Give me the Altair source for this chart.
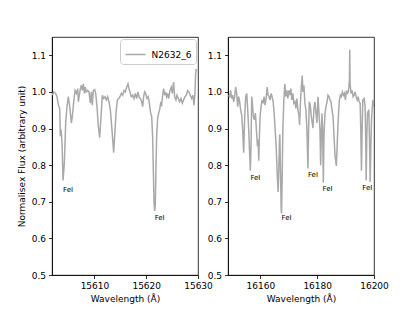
import altair as alt
import pandas as pd

SERIES_NAME = "N2632_6"

LEFT_WAVE = [15601.87, 15602.13, 15602.51, 15602.77, 15603.03, 15603.29, 15603.41, 15603.54, 15603.74, 15603.93,
             15604.19, 15604.44, 15604.70, 15604.96, 15605.22, 15605.54, 15605.73, 15605.99, 15606.25, 15606.50,
             15606.76, 15606.89, 15607.08, 15607.28, 15607.47, 15607.66, 15607.86, 15608.05, 15608.24, 15608.43,
             15608.69, 15608.95, 15609.21, 15609.40, 15609.59, 15609.79, 15610.04, 15610.24, 15610.49, 15610.75,
             15611.01, 15611.27, 15611.52, 15611.78, 15612.04, 15612.30, 15612.55, 15612.81, 15613.07, 15613.33,
             15613.58, 15613.71, 15613.90, 15614.16, 15614.42, 15614.68, 15614.93, 15615.19, 15615.45, 15615.71,
             15615.96, 15616.22, 15616.48, 15616.67, 15616.86, 15617.12, 15617.38, 15617.64, 15617.89, 15618.15,
             15618.41, 15618.60, 15618.86, 15619.12, 15619.31, 15619.50, 15619.70, 15619.89, 15620.15, 15620.40,
             15620.60, 15620.85, 15621.05, 15621.24, 15621.37, 15621.50, 15621.63, 15621.75, 15621.88, 15622.01,
             15622.21, 15622.40, 15622.59, 15622.78, 15622.98, 15623.17, 15623.36, 15623.56, 15623.75, 15623.94,
             15624.14, 15624.33, 15624.59, 15624.84, 15625.04, 15625.29, 15625.49, 15625.74, 15625.94, 15626.20,
             15626.45, 15626.71, 15626.97, 15627.22, 15627.48, 15627.74, 15628.00, 15628.25, 15628.51, 15628.77,
             15629.03, 15629.22, 15629.41, 15629.54, 15629.67]
LEFT_FLUX = [0.991, 1.000, 0.996, 0.987, 0.964, 0.955, 0.879, 0.897, 0.861, 0.758,
             0.807, 0.915, 0.960, 0.987, 0.960, 0.915, 0.933, 0.973, 1.004, 0.996,
             1.009, 0.973, 0.991, 1.009, 1.018, 1.004, 1.022, 0.996, 1.013, 1.000,
             1.004, 1.000, 0.969, 1.000, 0.964, 1.004, 1.006, 0.996, 0.960, 0.906,
             0.875, 0.933, 0.991, 0.982, 0.987, 0.978, 0.987, 0.973, 0.951, 0.906,
             0.861, 0.834, 0.879, 0.942, 0.978, 0.982, 0.987, 0.996, 0.991, 1.004,
             1.000, 1.013, 1.022, 1.009, 1.000, 0.987, 0.991, 0.982, 0.996, 0.982,
             1.000, 0.987, 0.982, 0.973, 0.960, 0.987, 1.000, 0.996, 0.982, 0.987,
             0.969, 0.942, 0.933, 0.879, 0.789, 0.700, 0.675, 0.691, 0.789, 0.879,
             0.928, 0.942, 0.951, 0.969, 0.964, 0.991, 1.009, 0.991, 1.000, 0.987,
             0.996, 0.982, 1.004, 1.013, 0.996, 1.027, 0.987, 0.978, 0.991, 0.982,
             0.973, 0.982, 0.969, 0.978, 0.987, 0.991, 1.004, 1.000, 0.991, 0.982,
             0.991, 0.964, 0.996, 1.049, 1.063]

RIGHT_WAVE = [16148.82, 16149.18, 16149.53, 16149.88, 16150.24, 16150.59, 16150.94, 16151.30, 16151.65, 16152.00,
              16152.36, 16152.71, 16153.06, 16153.42, 16153.77, 16154.12, 16154.48, 16154.83, 16155.19, 16155.54,
              16155.89, 16156.25, 16156.48, 16156.72, 16156.95, 16157.19, 16157.54, 16157.89, 16158.25, 16158.60,
              16158.95, 16159.19, 16159.43, 16159.66, 16159.90, 16160.25, 16160.60, 16160.96, 16161.31, 16161.66,
              16162.02, 16162.37, 16162.72, 16163.08, 16163.43, 16163.78, 16164.14, 16164.49, 16164.84, 16165.20,
              16165.55, 16165.90, 16166.26, 16166.49, 16166.73, 16166.85, 16167.08, 16167.32, 16167.44, 16167.67,
              16167.91, 16168.26, 16168.61, 16168.97, 16169.32, 16169.67, 16170.03, 16170.38, 16170.73, 16171.09,
              16171.44, 16171.79, 16172.15, 16172.50, 16172.85, 16173.21, 16173.56, 16173.80, 16174.15, 16174.38,
              16174.74, 16174.97, 16175.33, 16175.68, 16176.03, 16176.39, 16176.74, 16176.98, 16177.21, 16177.57,
              16177.92, 16178.27, 16178.51, 16178.86, 16179.21, 16179.57, 16179.92, 16180.27, 16180.63, 16180.98,
              16181.22, 16181.45, 16181.69, 16181.92, 16182.16, 16182.39, 16182.75, 16183.10, 16183.45, 16183.81,
              16184.16, 16184.51, 16184.87, 16185.22, 16185.58, 16185.93, 16186.28, 16186.75, 16187.11, 16187.46,
              16187.81, 16188.17, 16188.52, 16188.87, 16189.23, 16189.58, 16189.93, 16190.29, 16190.64, 16190.99,
              16191.35, 16191.46, 16191.58, 16191.94, 16192.29, 16192.64, 16193.00, 16193.35, 16193.70, 16194.06,
              16194.41, 16194.76, 16195.12, 16195.35, 16195.59, 16195.82, 16196.06, 16196.53, 16196.88, 16197.12,
              16197.24, 16197.47, 16197.71, 16198.18, 16198.41, 16198.65, 16198.89, 16199.12, 16199.59, 16200.00]
RIGHT_FLUX = [0.991, 0.987, 1.004, 0.982, 0.991, 0.973, 0.987, 1.013, 0.996, 0.960,
              0.987, 0.973, 0.951, 0.937, 0.897, 0.834, 0.933, 0.987, 0.996, 0.951,
              0.897, 0.825, 0.785, 0.861, 0.987, 0.969, 0.933, 0.924, 0.942, 0.897,
              0.852, 0.870, 0.812, 0.879, 0.933, 0.960, 0.978, 0.969, 0.987, 0.964,
              0.982, 1.013, 0.991, 0.987, 0.978, 0.996, 0.987, 0.973, 0.942, 0.897,
              0.852, 0.780, 0.727, 0.789, 0.870, 0.884, 0.789, 0.682, 0.668, 0.763,
              0.897, 0.978, 1.022, 0.987, 1.004, 0.982, 1.004, 0.991, 1.009, 0.978,
              0.996, 0.969, 0.973, 0.955, 0.982, 0.951, 0.937, 0.910, 0.978, 1.009,
              1.045, 1.000, 1.018, 0.969, 0.951, 0.897, 0.791, 0.897, 0.973, 0.964,
              0.933, 0.915, 0.901, 0.955, 0.973, 0.942, 0.915, 0.987, 0.942, 0.897,
              0.800, 0.879, 0.942, 0.897, 0.752, 0.879, 0.942, 0.960, 0.973, 0.991,
              0.987, 0.978, 0.973, 0.951, 0.933, 0.879, 0.825, 0.798, 0.870, 0.933,
              0.978, 0.991, 0.987, 1.000, 0.991, 0.996, 0.978, 1.004, 0.996, 1.000,
              1.031, 1.115, 1.022, 0.996, 1.004, 0.987, 0.991, 1.000, 0.987, 0.978,
              0.987, 0.973, 0.969, 0.897, 0.785, 0.897, 0.978, 0.982, 0.960, 0.852,
              0.758, 0.879, 0.942, 0.951, 0.870, 0.754, 0.852, 0.924, 0.978, 0.960]

LABEL_TEXT = "FeI"
LEFT_LABEL_WAVE = [15603.93, 15621.63]
LEFT_LABEL_FLUX = [0.727, 0.650]
RIGHT_LABEL_WAVE = [16156.48, 16167.44, 16176.74, 16181.90, 16195.90]
RIGHT_LABEL_FLUX = [0.759, 0.651, 0.769, 0.729, 0.732]

Y_TICKS = [0.5, 0.6, 0.7, 0.8, 0.9, 1.0, 1.1]
LEFT_X_TICKS = [15610, 15620, 15630]
RIGHT_X_TICKS = [16160, 16180, 16200]

LINE_COLOR = "#a9a9a9"
FONT = "DejaVu Sans"

left_df = pd.DataFrame({"wave": LEFT_WAVE, "flux": LEFT_FLUX, "series": SERIES_NAME})
right_df = pd.DataFrame({"wave": RIGHT_WAVE, "flux": RIGHT_FLUX})
left_lab = pd.DataFrame({"wave": LEFT_LABEL_WAVE, "flux": LEFT_LABEL_FLUX, "t": LABEL_TEXT})
right_lab = pd.DataFrame({"wave": RIGHT_LABEL_WAVE, "flux": RIGHT_LABEL_FLUX, "t": LABEL_TEXT})

W, H = 146, 238
yscale = alt.Scale(domain=[0.5, 1.15], nice=False, zero=False)


def panel(df, lab, xdom, xticks, left, legend):
    x = alt.X("wave:Q", scale=alt.Scale(domain=xdom, nice=False, zero=False),
              axis=alt.Axis(values=xticks, format="d", title="Wavelength (Å)", labelFlush=False,
                            labelOverlap=False))
    if left:
        y = alt.Y("flux:Q", scale=yscale,
                  axis=alt.Axis(values=Y_TICKS, format=".1f", title="Normalisex Flux (arbitrary unit)",
                                titlePadding=5, labelOverlap=False))
    else:
        y = alt.Y("flux:Q", scale=yscale, axis=alt.Axis(values=Y_TICKS, format=".1f", labelOverlap=False),
                  title=None)
    if legend:
        color = alt.Color("series:N", scale=alt.Scale(range=[LINE_COLOR]),
                          legend=alt.Legend(title=None, orient="top-right"))
        line = alt.Chart(df).mark_line(strokeWidth=1.5, clip=True).encode(x=x, y=y, color=color)
    else:
        line = alt.Chart(df).mark_line(strokeWidth=1.5, clip=True, color=LINE_COLOR).encode(x=x, y=y)
    text = alt.Chart(lab).mark_text(align="left", baseline="alphabetic", fontSize=7, font=FONT,
                                    color="black").encode(x=x, y=y, text="t:N")
    return alt.layer(line, text).properties(width=W, height=H)


left = panel(left_df, left_lab, [15601.8, 15630], LEFT_X_TICKS, True, True)
right = panel(right_df, right_lab, [16148.6, 16200], RIGHT_X_TICKS, False, False)

chart = alt.hconcat(left, right, spacing=30, bounds="flush").resolve_legend(
    color="independent"
).properties(
    padding={"left": 8, "top": 28, "right": 5, "bottom": 5}
).configure_view(stroke="black", strokeWidth=0.8).configure_axis(
    grid=False, domainColor="black", domainWidth=0.8, tickColor="black", tickWidth=0.8, tickSize=3.5,
    labelFont=FONT, labelFontSize=9, labelColor="black", labelPadding=3,
    titleFont=FONT, titleFontSize=9, titleFontWeight="normal", titleColor="black"
).configure_axisX(titlePadding=4).configure_legend(
    symbolType="stroke", symbolSize=400, symbolStrokeWidth=1.5, labelFont=FONT, labelFontSize=9,
    labelColor="black", padding=4.5, labelOffset=5, strokeColor="#cccccc", fillColor="white",
    cornerRadius=3, offset=2
)

chart.save("out.html", embed_options={"renderer": "svg", "actions": False})
